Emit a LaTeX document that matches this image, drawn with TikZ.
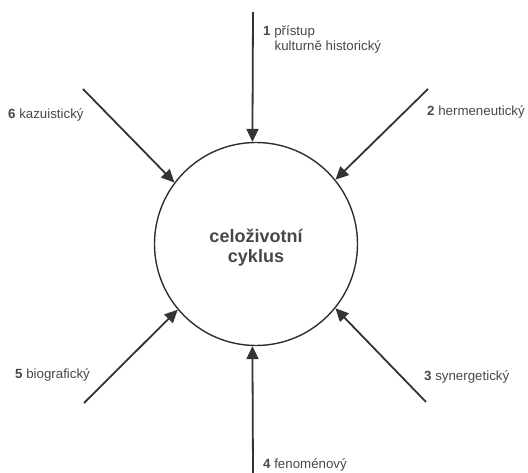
\documentclass[tikz,border=0pt]{standalone}
\usepackage{fontspec}
\setmainfont{Liberation Sans}
\usetikzlibrary{arrows.meta}
\begin{document}
\begin{tikzpicture}[x=1pt,y=-1pt,
  arr/.style={draw=black!80, line width=1.8pt, -{Triangle[length=13pt,width=12pt]}},
  lbl/.style={text=black!72, font=\fontsize{13.3}{15.5}\selectfont, inner sep=0pt, anchor=west},
  ring/.style={circle, draw=black!82, line width=1.4pt, minimum size=203pt, inner sep=0pt}]
\useasboundingbox (0,0) rectangle (528,473);
\node[ring] (c) at (256,244) {};
\node[text=black!72, font=\bfseries\fontsize{18}{20}\selectfont, align=center] (t) at (256,248) {celoživotní\\cyklus};
\coordinate (s1) at (253,12);
\coordinate (s2) at (428,89);
\coordinate (s3) at (426,402);
\coordinate (s4) at (253,473);
\coordinate (s5) at (84,403);
\coordinate (s6) at (83,89);
\draw[arr] (s1) -- (c.92);
\draw[arr] (s2) -- (c.39);
\draw[arr] (s3) -- (c.321);
\draw[arr] (s4) -- (c.268);
\draw[arr] (s5) -- (c.220);
\draw[arr] (s6) -- (c.143);
\node[lbl, align=left] (l1) at (263,39.5) {\textbf{1} přístup\\\hspace*{11.5pt}kulturně historický};
\node[lbl] (l2) at (427,112) {\textbf{2} hermeneutický};
\node[lbl] (l3) at (424,377) {\textbf{3} synergetický};
\node[lbl] (l4) at (263,465) {\textbf{4} fenoménový};
\node[lbl] (l5) at (15,375) {\textbf{5} biografický};
\node[lbl] (l6) at (8,115) {\textbf{6} kazuistický};
\end{tikzpicture}
\end{document}
